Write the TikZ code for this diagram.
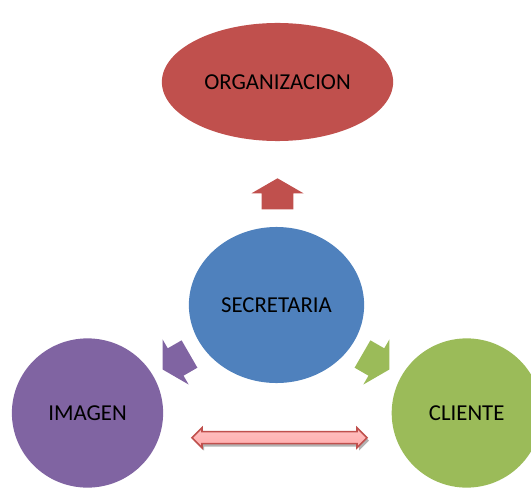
\documentclass[tikz,border=0pt]{standalone}
\usepackage{fontspec}
\setmainfont{Carlito}
\usetikzlibrary{shapes,arrows,positioning}

\definecolor{orgred}{HTML}{C0504D}
\definecolor{secblue}{HTML}{4F81BD}
\definecolor{imgpurple}{HTML}{8064A2}
\definecolor{cligreen}{HTML}{9BBB59}
\definecolor{linkpink}{RGB}{255,192,192}

\begin{document}
\begin{tikzpicture}[x=0.025cm, y=0.025cm,
	bubble/.style={shape=ellipse, inner sep=0pt, font=\fontsize{16.2}{19}\selectfont},
	blockarrow/.style={fill=#1}]
	\useasboundingbox (0,0) rectangle (531,488);
	\clip (0,0) rectangle (531,488);

	\node[bubble, fill=orgred, minimum width=5.78cm, minimum height=2.95cm] (org) at (277.5,406) {ORGANIZACION};
	\node[bubble, fill=secblue, minimum width=4.38cm, minimum height=3.9cm] (sec) at (276.5,183) {SECRETARIA};
	\node[bubble, fill=imgpurple, minimum width=3.78cm, minimum height=3.73cm] (img) at (87.5,75) {IMAGEN};
	\node[bubble, fill=cligreen, minimum width=3.75cm, minimum height=3.73cm] (cli) at (466.7,75) {CLIENTE};

	% arrows out of the centre
	\foreach \ang/\px/\py/\col in {90/277.5/278.7/orgred, 210/189.5/134/imgpurple, -30/362.5/134/cligreen}
		\path[blockarrow=\col, shift={(\px,\py)}, rotate=\ang]
			(0,-15.8) -- (16,-15.8) -- (16,-26) -- (31,0) -- (16,26) -- (16,15.8) -- (0,15.8) -- cycle;

	% link between imagen and cliente
	\fill[gray!60, shift={(2,-3)}] (192,50.3) -- (202,60.3) -- (202,56.3) -- (357,56.3) -- (357,60.3)
		-- (367,50.3) -- (357,40.3) -- (357,44.3) -- (202,44.3) -- (202,40.3) -- cycle;
	\path[draw=orgred, line width=1.1pt, top color=linkpink, middle color=linkpink!50, bottom color=linkpink!90!red]
		(192,50.3) -- (202,60.3) -- (202,56.3) -- (357,56.3) -- (357,60.3)
		-- (367,50.3) -- (357,40.3) -- (357,44.3) -- (202,44.3) -- (202,40.3) -- cycle;
\end{tikzpicture}
\end{document}
